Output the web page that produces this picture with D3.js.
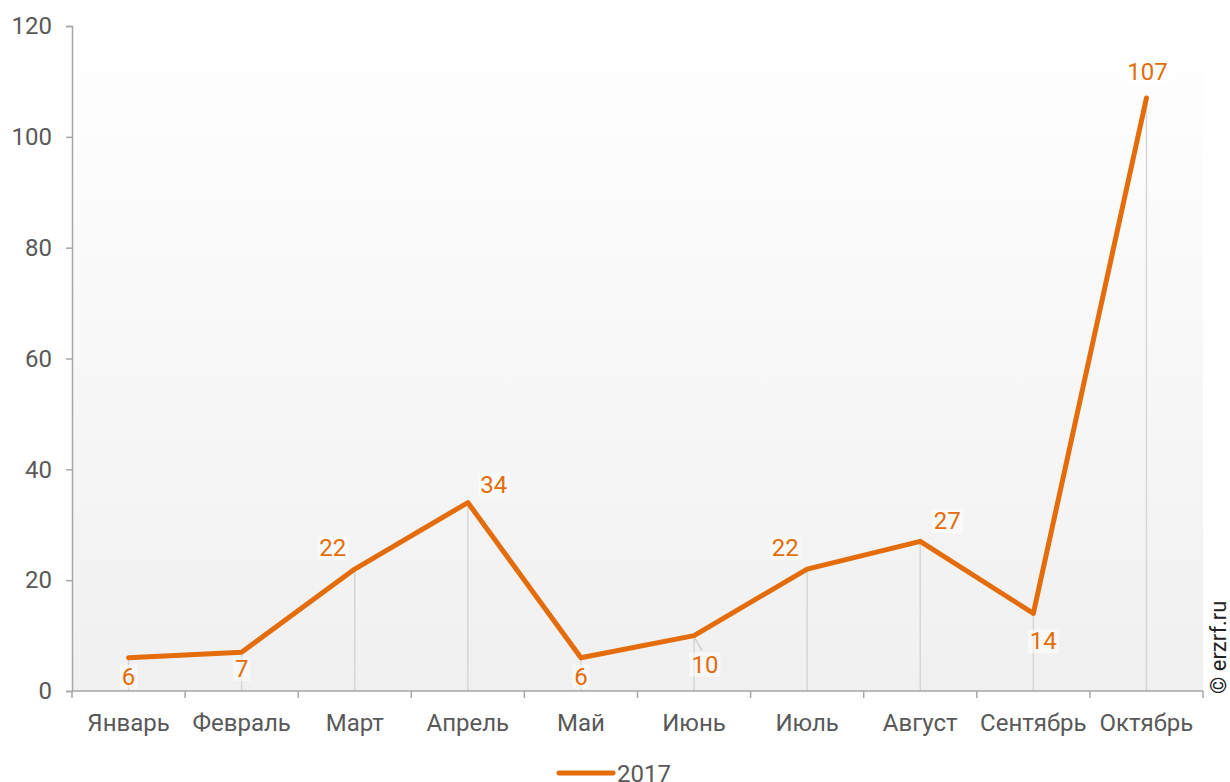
<!DOCTYPE html>
<html>
<head>
<meta charset="utf-8">
<script src="https://cdn.jsdelivr.net/npm/d3@7"></script>
<style>
  html, body { margin: 0; padding: 0; background: #fff; }
  svg { display: block; font-family: Roboto, "Open Sans", sans-serif; }
</style>
</head>
<body>
<svg id="chart" width="1230" height="782"></svg>
<script>
// Monthly values, 2017
const months = ["Январь", "Февраль", "Март", "Апрель", "Май", "Июнь", "Июль", "Август", "Сентябрь", "Октябрь"];
const values2017 = [6, 7, 22, 34, 6, 10, 22, 27, 14, 107];
const yTicks = [0, 20, 40, 60, 80, 100, 120];
const seriesName = "2017";

// Where each value label sits relative to its point (dx, dy)
const labelOffsets = [[0, 27], [0, 25], [-22, -13], [26, -10], [0, 27], [11, 37], [-22, -13], [27, -12], [10, 36], [1, -18]];

const color = "#E46C0A";
const textColor = "#595959";
const axisColor = "#a6a6a6";
const fontSize = 24;

const svg = d3.select("#chart");
const margin = { left: 72, right: 1203, top: 26, bottom: 691 };

const x = d3.scaleBand().domain(months).range([margin.left, margin.right]).paddingInner(0).paddingOuter(0);
const y = d3.scaleLinear().domain([0, 120]).range([margin.bottom, margin.top]);

// Plot background: white fading to light grey
const defs = svg.append("defs");
const grad = defs.append("linearGradient").attr("id", "bg").attr("x1", 0).attr("y1", 0).attr("x2", 0).attr("y2", 1);
grad.append("stop").attr("offset", "0%").attr("stop-color", "#ffffff");
grad.append("stop").attr("offset", "100%").attr("stop-color", "#f0f0f0");

svg.append("rect")
  .attr("x", margin.left).attr("y", margin.top)
  .attr("width", margin.right - margin.left).attr("height", margin.bottom - margin.top)
  .attr("fill", "url(#bg)");

const cx = d => x(d) + x.bandwidth() / 2;
const pts = months.map((m, i) => ({ m, v: values2017[i], i }));

// Drop lines from each point to the category axis
svg.append("g").selectAll("line").data(pts).join("line")
  .attr("x1", d => cx(d.m)).attr("x2", d => cx(d.m))
  .attr("y1", d => y(d.v)).attr("y2", y(0))
  .attr("stroke", "#d6d6d6").attr("stroke-width", 1.5);

// Y axis
const yAxis = svg.append("g").attr("transform", `translate(${margin.left},0)`)
  .call(d3.axisLeft(y).tickValues(yTicks).tickSize(6).tickPadding(14));
yAxis.select(".domain").attr("stroke", axisColor).attr("stroke-width", 1.5);
yAxis.selectAll(".tick line").attr("stroke", axisColor).attr("stroke-width", 1.5);
yAxis.selectAll(".tick text").attr("fill", textColor).attr("font-size", fontSize).attr("font-family", "Roboto");

// X axis with ticks between categories
const xAxis = svg.append("g").attr("transform", `translate(0,${margin.bottom})`);
xAxis.append("line").attr("x1", margin.left).attr("x2", margin.right).attr("stroke", axisColor).attr("stroke-width", 1.5);
const bounds = months.map(m => x(m)).concat([margin.right]);
xAxis.selectAll("line.tk").data(bounds).join("line").attr("class", "tk")
  .attr("x1", d => d).attr("x2", d => d).attr("y1", 0).attr("y2", 7)
  .attr("stroke", axisColor).attr("stroke-width", 1.5);
xAxis.selectAll("text").data(months).join("text")
  .attr("x", d => cx(d)).attr("y", 40)
  .attr("text-anchor", "middle").attr("fill", textColor).attr("font-size", fontSize)
  .text(d => d);

// Series line
const line = d3.line().x(d => cx(d.m)).y(d => y(d.v));
svg.append("path").datum(pts)
  .attr("d", line).attr("fill", "none")
  .attr("stroke", color).attr("stroke-width", 5)
  .attr("stroke-linejoin", "round").attr("stroke-linecap", "round");

// Leader line for the June label
svg.append("line")
  .attr("x1", cx(months[5]) + 1).attr("y1", y(values2017[5]) + 3)
  .attr("x2", cx(months[5]) + 8).attr("y2", y(values2017[5]) + 15)
  .attr("stroke", "#c8c8c8").attr("stroke-width", 1.2);

// Value labels
const lbl = svg.append("g").selectAll("g").data(pts).join("g")
  .attr("transform", d => `translate(${cx(d.m) + labelOffsets[d.i][0]},${y(d.v) + labelOffsets[d.i][1]})`);
lbl.append("text")
  .attr("text-anchor", "middle").attr("font-size", fontSize).attr("fill", color)
  .text(d => d.v)
  .each(function () {
    const b = this.getBBox();
    d3.select(this.parentNode).insert("rect", "text")
      .attr("x", b.x - 2).attr("y", b.y + 2).attr("width", b.width + 4).attr("height", b.height - 4)
      .attr("fill", "#ffffff").attr("opacity", 0.5);
  });

// Legend
const lg = svg.append("g");
lg.append("line").attr("x1", 559).attr("x2", 613).attr("y1", 773).attr("y2", 773)
  .attr("stroke", color).attr("stroke-width", 5).attr("stroke-linecap", "round");
lg.append("text").attr("x", 617).attr("y", 782).attr("fill", textColor).attr("font-size", fontSize).text(seriesName);

// Copyright mark
svg.append("text")
  .attr("transform", "translate(1226,694) rotate(-90)")
  .attr("font-size", 22).attr("fill", "#222").text("© erzrf.ru");
</script>
</body>
</html>
